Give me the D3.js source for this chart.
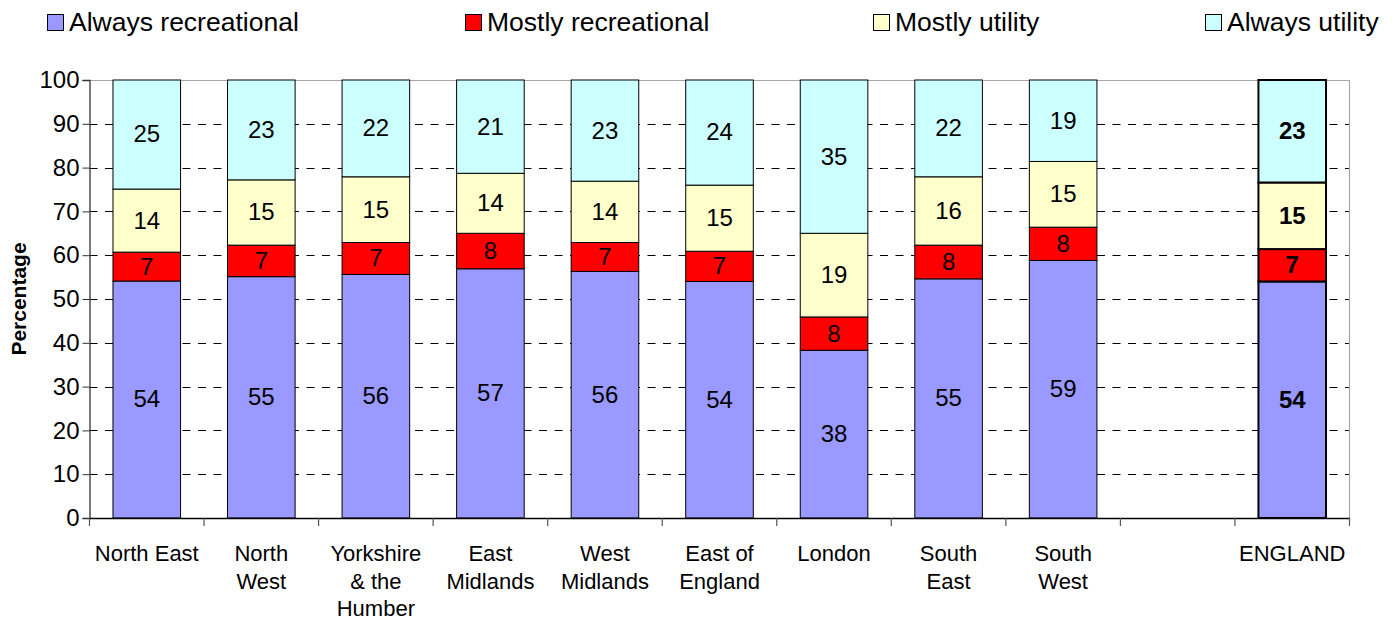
<!DOCTYPE html>
<html>
<head>
<meta charset="utf-8">
<script src="https://cdn.jsdelivr.net/npm/d3@7"></script>
<style>
  html, body { margin: 0; padding: 0; background: #fff; }
  svg { display: block; font-family: "Liberation Sans", Arial, sans-serif; }
</style>
</head>
<body>
<svg id="chart" width="1392" height="621"></svg>
<script>
// ---- data ----
const categories = ["North East", "North West", "Yorkshire & the Humber", "East Midlands", "West Midlands",
  "East of England", "London", "South East", "South West", "", "ENGLAND"];
const categoryLines = [["North East"], ["North", "West"], ["Yorkshire", "& the", "Humber"], ["East", "Midlands"],
  ["West", "Midlands"], ["East of", "England"], ["London"], ["South", "East"], ["South", "West"], [], ["ENGLAND"]];
const seriesNames = ["Always recreational", "Mostly recreational", "Mostly utility", "Always utility"];
const seriesColors = ["#9999FF", "#FF0000", "#FFFFCC", "#CCFFFF"];
const alwaysRecreational = [54.1, 55.1, 55.6, 56.9, 56.3, 54.0, 38.3, 54.6, 58.8, null, 54.0];
const mostlyRecreational = [6.6, 7.2, 7.3, 8.1, 6.6, 6.9, 7.6, 7.7, 7.6, null, 7.4];
const mostlyUtility      = [14.4, 14.9, 15.0, 13.7, 14.0, 15.1, 19.1, 15.6, 15.0, null, 15.2];
const alwaysUtility      = [24.9, 22.8, 22.1, 21.3, 23.1, 24.0, 35.0, 22.1, 18.6, null, 23.4];
const yTicks = [0, 10, 20, 30, 40, 50, 60, 70, 80, 90, 100];
const boldCategory = "ENGLAND";

const series = [alwaysRecreational, mostlyRecreational, mostlyUtility, alwaysUtility];

// ---- layout ----
const svg = d3.select("#chart");
const pLeft = 89.5, pRight = 1349.5, pTop = 80, pBottom = 518;

const x = d3.scaleBand().domain(d3.range(categories.length)).range([pLeft, pRight])
  .paddingInner(0.41).paddingOuter(0.205);
const y = d3.scaleLinear().domain([0, 100]).range([pBottom, pTop]);

// gridlines
svg.append("g").selectAll("line").data(yTicks.filter(t => t > 0 && t < 100)).join("line")
  .attr("x1", pLeft).attr("x2", pRight)
  .attr("y1", d => Math.round(y(d)) + 0.5).attr("y2", d => Math.round(y(d)) + 0.5)
  .attr("stroke", "#000").attr("stroke-width", 1).attr("stroke-dasharray", "8,7.5");

// plot border top/right
svg.append("path")
  .attr("d", `M${pLeft},${pTop + 0.5}H${pRight}V${pBottom}`)
  .attr("fill", "none").attr("stroke", "#a6a6a6").attr("stroke-width", 1.2);

// stacked data
const stackData = categories.map((c, i) => {
  let acc = 0;
  return series.map((s, k) => {
    const v = s[i];
    if (v == null) return null;
    const seg = { i, k, y0: acc, y1: acc + v, v };
    acc += v;
    return seg;
  }).filter(d => d);
}).flat();

const bars = svg.append("g");
bars.selectAll("rect").data(stackData).join("rect")
  .attr("x", d => x(d.i))
  .attr("width", x.bandwidth())
  .attr("y", d => y(d.y1))
  .attr("height", d => y(d.y0) - y(d.y1))
  .attr("fill", d => seriesColors[d.k])
  .attr("stroke", "#000")
  .attr("stroke-width", d => categories[d.i] === boldCategory ? 2 : 1);

bars.selectAll("text").data(stackData).join("text")
  .attr("x", d => x(d.i) + x.bandwidth() / 2)
  .attr("y", d => (y(d.y0) + y(d.y1)) / 2)
  .attr("dy", "0.33em")
  .attr("text-anchor", "middle")
  .attr("font-size", 24)
  .attr("font-weight", d => categories[d.i] === boldCategory ? "bold" : "normal")
  .attr("fill", "#000")
  .text(d => Math.round(d.v));

// y axis
const yAxis = svg.append("g").attr("transform", `translate(${pLeft},0)`)
  .call(d3.axisLeft(y).tickValues(yTicks).tickSize(7).tickPadding(3));
yAxis.select(".domain").attr("stroke", "#333").attr("stroke-width", 1.3);
yAxis.selectAll(".tick line").attr("stroke", "#333");
yAxis.selectAll(".tick text").attr("font-size", 24).attr("fill", "#000")
  .attr("font-family", "Liberation Sans, Arial, sans-serif");

// x axis
const xAxisG = svg.append("g");
xAxisG.append("line").attr("x1", pLeft).attr("x2", pRight + 0.5)
  .attr("y1", pBottom + 0.5).attr("y2", pBottom + 0.5).attr("stroke", "#000").attr("stroke-width", 1.3);
const step = x.step();
xAxisG.selectAll("line.tk").data(d3.range(categories.length + 1)).join("line").attr("class", "tk")
  .attr("x1", i => pLeft + i * step).attr("x2", i => pLeft + i * step)
  .attr("y1", pBottom).attr("y2", pBottom + 8)
  .attr("stroke", "#555").attr("stroke-width", 1.2);

const catG = xAxisG.selectAll("text").data(categories.map((c, i) => ({ c, i }))).join("text")
  .attr("x", d => x(d.i) + x.bandwidth() / 2)
  .attr("y", 561)
  .attr("text-anchor", "middle")
  .attr("font-size", 22)
  .attr("fill", "#000");
catG.selectAll("tspan").data(d => categoryLines[d.i].map(l => ({ l, x: x(d.i) + x.bandwidth() / 2 }))).join("tspan")
  .attr("x", d => d.x)
  .attr("dy", (d, j) => j === 0 ? 0 : 27.5)
  .text(d => d.l);

// y axis title
svg.append("text")
  .attr("transform", "translate(26,299) rotate(-90)")
  .attr("text-anchor", "middle")
  .attr("font-size", 21)
  .attr("font-weight", "bold")
  .text("Percentage");

// legend
const legendX = [69, 487, 895, 1227];
const lg = svg.append("g").selectAll("g").data(seriesNames.map((n, k) => ({ n, k }))).join("g");
lg.append("rect")
  .attr("x", d => legendX[d.k] - 21.5).attr("y", 14.5)
  .attr("width", 16).attr("height", 16)
  .attr("fill", d => seriesColors[d.k]).attr("stroke", "#000").attr("stroke-width", 1);
lg.append("text")
  .attr("x", d => legendX[d.k]).attr("y", 31)
  .attr("font-size", 26.5)
  .attr("fill", "#000")
  .text(d => d.n);
</script>
</body>
</html>
